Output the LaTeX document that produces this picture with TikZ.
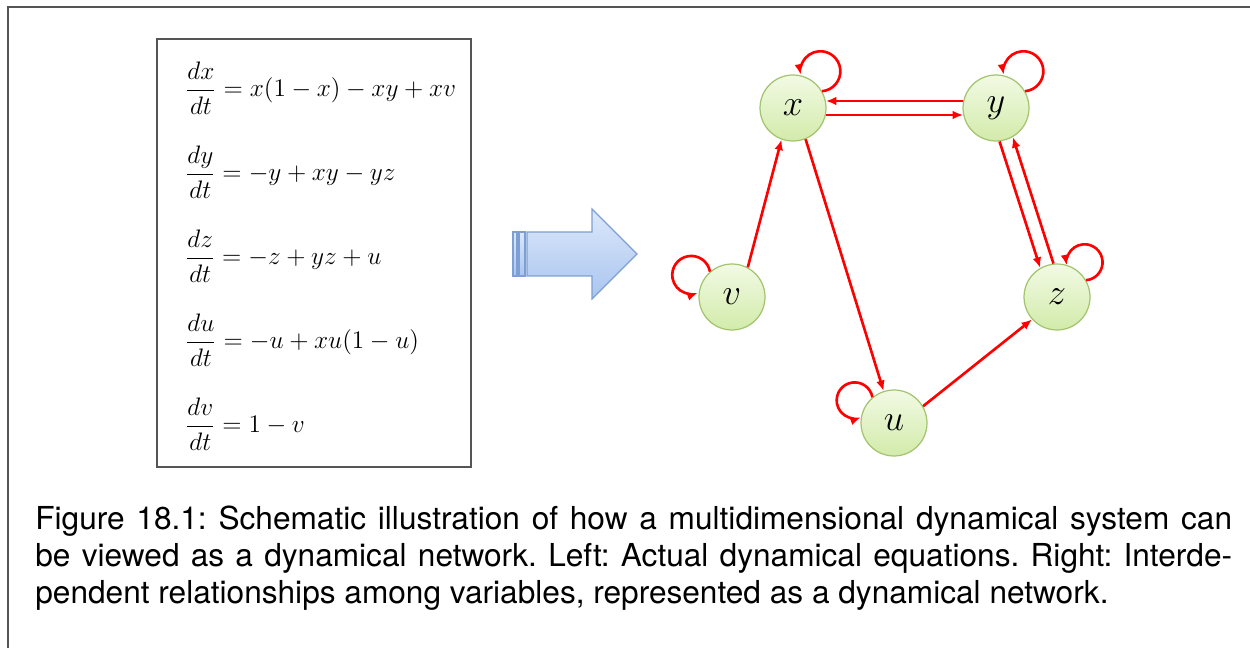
\documentclass[tikz,border=0pt]{standalone}
\usepackage{fontspec}
\setsansfont{TeX Gyre Heros}
\usetikzlibrary{arrows.meta,calc}
\definecolor{Wire}{HTML}{FF0000}
\definecolor{LeafTop}{HTML}{F2FAE4}
\definecolor{LeafBot}{HTML}{D2EBAA}
\definecolor{LeafEdge}{HTML}{A3C46E}
\definecolor{SkyTop}{HTML}{DCE8FA}
\definecolor{SkyBot}{HTML}{A9C5EF}
\definecolor{SkyEdge}{HTML}{7D9FD3}
\definecolor{Frame}{HTML}{555555}

\begin{document}
\begin{tikzpicture}[x=0.02cm,y=0.02cm,
    var/.style={circle,minimum size=1.32cm,inner sep=0pt,draw=LeafEdge,line width=0.7pt,
      top color=LeafTop,bottom color=LeafBot,font=\fontsize{22}{26}\selectfont},
    link/.style={Wire,line width=1.5pt,-{Latex[length=6pt,width=5pt]}},
    skyarrow/.style={draw=SkyEdge,line width=0.7pt,top color=SkyTop,bottom color=SkyBot},
    eqn/.style={anchor=west,inner sep=0pt,font=\fontsize{15.5}{18}\selectfont}]
    \useasboundingbox (0,0) rectangle (1250,-648);
    % outer frame, cut at right and bottom
    \draw[Frame,line width=1.2pt] (8,-648) -- (8,-7) -- (1250,-7);
    % equations
    \draw[Frame,line width=0.8pt] (157,-39) rectangle (471,-467);
    \foreach \y/\eq [count=\i] in {88/{\frac{dx}{dt}=x(1-x)-xy+xv},
        172/{\frac{dy}{dt}=-y+xy-yz},
        256/{\frac{dz}{dt}=-z+yz+u},
        340/{\frac{du}{dt}=-u+xu(1-u)},
        424/{\frac{dv}{dt}=1-v}}{
      \node[eqn] (eq\i) at (185,-\y) {$\displaystyle\eq$};
    }
    % block arrow
    \draw[skyarrow] (513,-232) rectangle (517,-276);
    \draw[skyarrow] (519,-232) rectangle (525,-276);
    \draw[skyarrow] (527,-232) -- (592,-232) -- (592,-209) -- (637,-254)
      -- (592,-299) -- (592,-276) -- (527,-276) -- cycle;
    % network
    \node[var] (x) at (793,-108) {$x$};
    \node[var] (y) at (996,-108) {$y$};
    \node[var] (v) at (732,-297) {$v$};
    \node[var] (z) at (1057,-297) {$z$};
    \node[var] (u) at (894,-423) {$u$};
    \draw[link] (y.168) -- (x.12);
    \draw[link] (x.-12) -- (y.192);
    \draw[link] (y.-84) -- (z.120);
    \draw[link] (z.96) -- (y.-60);
    \draw[link] (v.62) -- (x.250);
    \draw[link] (x.-68) -- (u.108);
    \draw[link] (u.30) -- (z.222);
    % self loops
    \draw[link] (x.30) arc[start angle=-85,end angle=190,radius=20];
    \draw[link] (y.30) arc[start angle=-85,end angle=190,radius=20];
    \draw[link] (z.30) arc[start angle=-85,end angle=190,radius=18];
    \draw[link] (v.131) arc[start angle=10,end angle=290,radius=19];
    \draw[link] (u.130) arc[start angle=10,end angle=290,radius=18];
    % caption
    \node[anchor=north west,inner sep=0pt,text width=23.94cm,align=justify,
      font=\sffamily\fontsize{18}{21}\selectfont\frenchspacing] (cap) at (35,-506)
      {Figure 18.1: Schematic illustration of how a multidimensional dynamical system can\linebreak
       be viewed as a dynamical network. Left: Actual dynamical equations. Right: Interde-\linebreak
       pendent relationships among variables, represented as a dynamical network.};
  \end{tikzpicture}
\end{document}
